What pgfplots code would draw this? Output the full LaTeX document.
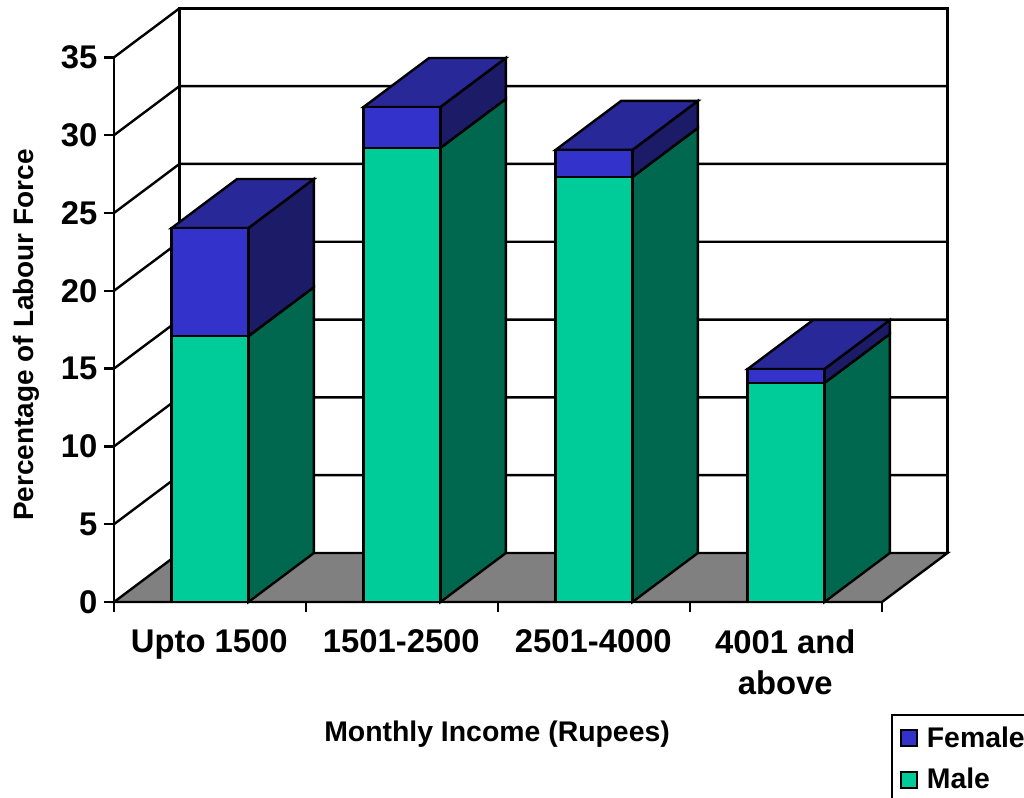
\documentclass[border=0pt]{standalone}
\usepackage{fontspec}
\setmainfont{Liberation Sans}
\usepackage{pgfplots}
\pgfplotsset{compat=1.18}
\definecolor{mfront}{RGB}{0,204,153}
\definecolor{mside}{RGB}{0,104,78}
\definecolor{ffront}{RGB}{51,51,204}
\definecolor{ftop}{RGB}{40,40,153}
\definecolor{fside}{RGB}{27,27,104}
\definecolor{floorc}{RGB}{128,128,128}
\newcommand{\tickfont}{\fontsize{24.6pt}{30.7pt}\selectfont\bfseries}
\newcommand{\labfont}{\fontsize{21.3pt}{26pt}\selectfont\bfseries}
\begin{document}
\begin{tikzpicture}
\clip (0,0) rectangle (768pt,597.75pt);
\useasboundingbox (0,0) rectangle (768pt,597.75pt);
\begin{axis}[
  at={(85.5pt,146.25pt)}, anchor=south west,
  scale only axis, width=576pt, height=408.5pt,
  xmin=0, xmax=4, ymin=0, ymax=35,
  clip=false, axis on top,
  axis x line=bottom, axis y line=left,
  axis line style={-, line width=2pt},
  every tick/.style={black, line width=1.8pt},
  tick align=outside,
  major tick length=7.5pt,
  minor tick length=7.5pt,
  xtick={0.5,1.5,2.5,3.5},
  xticklabels={Upto 1500,1501-2500,2501-4000,{4001 and\\above}},
  minor xtick={0,1,2,3,4},
  major x tick style={draw=none},
  xticklabel style={font=\tickfont, align=center, yshift=-10pt, xshift=-0.5pt},
  ytick={0,5,10,15,20,25,30,35},
  yticklabel style={font=\tickfont, /pgf/number format/assume math mode=true, xshift=-1.5pt},
  legend style={at={(rel axis cs:1.0117,-0.2055)}, anchor=north west,
    draw=black, line width=1.8pt, font=\labfont, cells={anchor=west},
    row sep=10.2pt, inner xsep=6pt, inner ysep=6.7pt},
  legend cell align=left,
  legend image code/.code={\draw[#1] (0pt,-6pt) rectangle (12pt,6pt);},
]
% floor
\addplot[draw=black, line width=1.8pt, fill=floorc, forget plot] coordinates {(0,0)(4,0)(4.341,3.15)(0.341,3.15)} -- cycle;
% back wall grid and diagonals
\addplot[black, line width=1.8pt, forget plot] coordinates {(0.341,3.15)(0.341,38.15)(4.341,38.15)(4.341,3.15)};
\addplot[black, line width=1.8pt, forget plot] coordinates {(0,5)(0.341,8.15)(4.341,8.15)};
\addplot[black, line width=1.8pt, forget plot] coordinates {(0,10)(0.341,13.15)(4.341,13.15)};
\addplot[black, line width=1.8pt, forget plot] coordinates {(0,15)(0.341,18.15)(4.341,18.15)};
\addplot[black, line width=1.8pt, forget plot] coordinates {(0,20)(0.341,23.15)(4.341,23.15)};
\addplot[black, line width=1.8pt, forget plot] coordinates {(0,25)(0.341,28.15)(4.341,28.15)};
\addplot[black, line width=1.8pt, forget plot] coordinates {(0,30)(0.341,33.15)(4.341,33.15)};
\addplot[black, line width=1.8pt, forget plot] coordinates {(0,35)(0.341,38.15)};
\pgfplotsset{every axis plot/.append style={draw=black, line width=1.8pt, forget plot, line join=miter}}
% bar 1
\addplot[fill=mside] coordinates {(0.7,0)(1.041,3.15)(1.041,20.23)(0.7,17.08)} -- cycle;
\addplot[fill=fside] coordinates {(0.7,17.08)(1.041,20.23)(1.041,27.18)(0.7,24.03)} -- cycle;
\addplot[fill=ftop] coordinates {(0.3,24.03)(0.7,24.03)(1.041,27.18)(0.641,27.18)} -- cycle;
\addplot[fill=mfront] coordinates {(0.3,0)(0.7,0)(0.7,17.08)(0.3,17.08)} -- cycle;
\addplot[fill=ffront] coordinates {(0.3,17.08)(0.7,17.08)(0.7,24.03)(0.3,24.03)} -- cycle;
% bar 2
\addplot[fill=mside] coordinates {(1.7,0)(2.041,3.15)(2.041,32.33)(1.7,29.18)} -- cycle;
\addplot[fill=fside] coordinates {(1.7,29.18)(2.041,32.33)(2.041,34.96)(1.7,31.81)} -- cycle;
\addplot[fill=ftop] coordinates {(1.3,31.81)(1.7,31.81)(2.041,34.96)(1.641,34.96)} -- cycle;
\addplot[fill=mfront] coordinates {(1.3,0)(1.7,0)(1.7,29.18)(1.3,29.18)} -- cycle;
\addplot[fill=ffront] coordinates {(1.3,29.18)(1.7,29.18)(1.7,31.81)(1.3,31.81)} -- cycle;
% bar 3
\addplot[fill=mside] coordinates {(2.7,0)(3.041,3.15)(3.041,30.46)(2.7,27.31)} -- cycle;
\addplot[fill=fside] coordinates {(2.7,27.31)(3.041,30.46)(3.041,32.2)(2.7,29.05)} -- cycle;
\addplot[fill=ftop] coordinates {(2.3,29.05)(2.7,29.05)(3.041,32.2)(2.641,32.2)} -- cycle;
\addplot[fill=mfront] coordinates {(2.3,0)(2.7,0)(2.7,27.31)(2.3,27.31)} -- cycle;
\addplot[fill=ffront] coordinates {(2.3,27.31)(2.7,27.31)(2.7,29.05)(2.3,29.05)} -- cycle;
% bar 4
\addplot[fill=mside] coordinates {(3.7,0)(4.041,3.15)(4.041,17.22)(3.7,14.07)} -- cycle;
\addplot[fill=fside] coordinates {(3.7,14.07)(4.041,17.22)(4.041,18.12)(3.7,14.97)} -- cycle;
\addplot[fill=ftop] coordinates {(3.3,14.97)(3.7,14.97)(4.041,18.12)(3.641,18.12)} -- cycle;
\addplot[fill=mfront] coordinates {(3.3,0)(3.7,0)(3.7,14.07)(3.3,14.07)} -- cycle;
\addplot[fill=ffront] coordinates {(3.3,14.07)(3.7,14.07)(3.7,14.97)(3.3,14.97)} -- cycle;
% legend
\addlegendimage{draw=black, line width=1.5pt, fill=ffront}
\addlegendentry{\hspace{4.5pt}Female}
\addlegendimage{draw=black, line width=1.5pt, fill=mfront}
\addlegendentry{\hspace{4.5pt}Male}
% titles
\node[font=\labfont] at (axis cs:1.995,-8.47) {Monthly Income (Rupees)};
\node[font=\labfont, rotate=90, scale=0.985] at (axis cs:-0.459,17.16) {Percentage of Labour Force};
\end{axis}
\end{tikzpicture}
\end{document}
